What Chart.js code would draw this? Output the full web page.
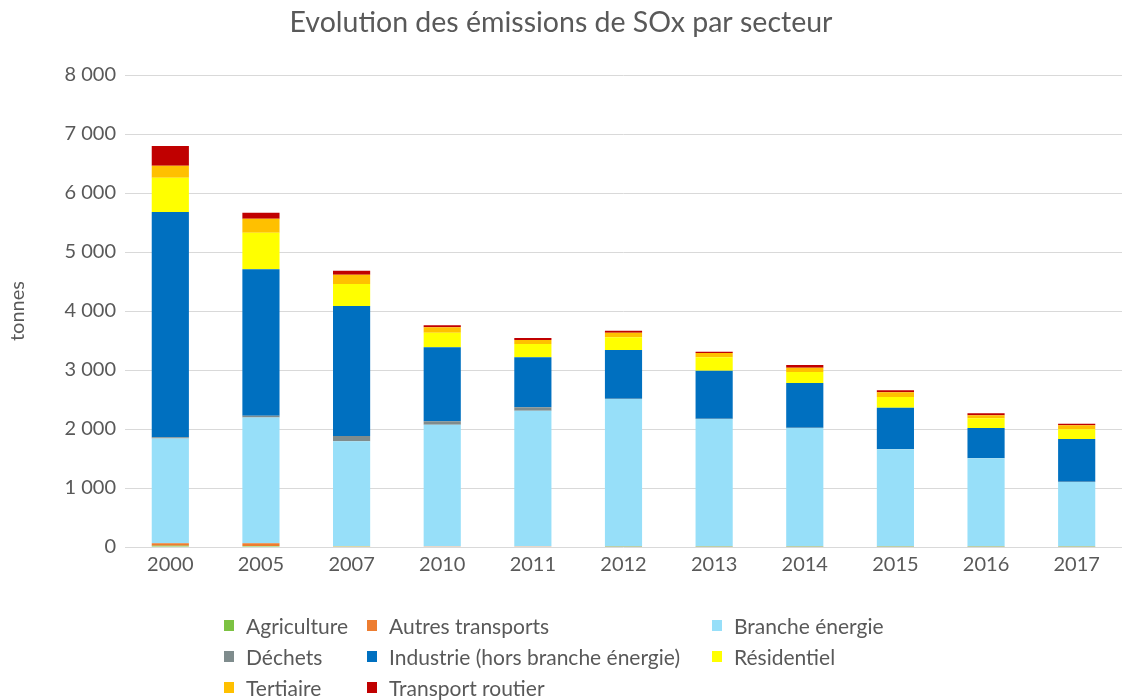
<!DOCTYPE html>
<html><head><meta charset="utf-8">
<script src="https://cdn.jsdelivr.net/npm/chart.js@4.4.1/dist/chart.umd.min.js"></script>
<style>
html,body{margin:0;padding:0;background:#fff;}
#wrap{position:relative;width:1129px;height:700px;}
canvas{position:absolute;left:0;top:0;}
#legend{position:absolute;left:0;top:0;width:1129px;height:700px;pointer-events:none;font-family:Lato,"Open Sans",sans-serif;font-size:21px;color:#595959;}
.li{position:absolute;display:flex;align-items:center;white-space:nowrap;height:26px;}
.sw{width:10px;height:11px;margin-right:12px;flex:none;}
</style></head>
<body><div id="wrap"><canvas id="c" width="1129" height="700"></canvas><div id="legend"></div></div>
<script>
const years = ['2000','2005','2007','2010','2011','2012','2013','2014','2015','2016','2017'];
const agriculture      = [20, 15, 12, 8, 8, 5, 4, 4, 4, 4, 4];
const autresTransports = [45, 48, 5, 4, 4, 4, 3, 3, 3, 3, 3];
const brancheEnergie   = [1774, 2133, 1774, 2061, 2298, 2500, 2163, 2010, 1649, 1496, 1095];
const dechets          = [20, 30, 90, 57, 57, 5, 5, 5, 5, 5, 5];
const industrie        = [3819, 2480, 2204, 1255, 848, 825, 814, 758, 700, 509, 724];
const residentiel      = [582, 621, 373, 247, 226, 215, 226, 186, 181, 164, 164];
const tertiaire        = [203, 238, 157, 92, 67, 78, 73, 74, 79, 51, 67];
const transportRoutier = [334, 101, 68, 33, 34, 34, 23, 45, 34, 34, 28];

const seriesNames = ['Agriculture','Autres transports','Branche énergie','Déchets','Industrie (hors branche énergie)','Résidentiel','Tertiaire','Transport routier'];
const seriesData = [agriculture, autresTransports, brancheEnergie, dechets, industrie, residentiel, tertiaire, transportRoutier];
const seriesColors = ['#7CC242','#ED7D31','#97DFF9','#7F8C8D','#0070C0','#FFFF00','#FFC000','#C00000'];

const FONT = 'Lato, "Open Sans", sans-serif';
const TXT = '#595959';

function fmt(v){ return String(v).replace(/\B(?=(\d{3})+(?!\d))/g, ' '); }

const chart = new Chart(document.getElementById('c'), {
  type: 'bar',
  data: {
    labels: years,
    datasets: seriesNames.map((n,i)=>({
      label: n, data: seriesData[i], backgroundColor: seriesColors[i],
      borderWidth: 0, barPercentage: 0.41, categoryPercentage: 1
    }))
  },
  options: {
    responsive: false, animation: false,
    layout: { padding: { left: 0, right: 7, top: 0, bottom: 113 } },
    plugins: {
      legend: { display: false },
      tooltip: { enabled: false },
      title: { display: true, text: 'Evolution des émissions de SOx par secteur',
        color: TXT, font: { family: FONT, size: 28.5, weight: 'normal' },
        padding: { top: 6, bottom: 34.8 } }
    },
    scales: {
      x: { stacked: true,
        grid: { display: false, drawTicks: false },
        border: { display: false },
        ticks: { color: TXT, font: { family: FONT, size: 20 }, padding: 6, maxRotation: 0 },
        afterFit(s){ s.height = 40; } },
      y: { stacked: true, min: 0, max: 8000,
        grid: { color: '#D9D9D9', lineWidth: 1, drawTicks: false },
        border: { display: false },
        ticks: { stepSize: 1000, color: TXT, font: { family: FONT, size: 20 }, padding: 9,
          callback: v => fmt(v) },
        title: { display: true, text: 'tonnes', color: TXT, font: { family: FONT, size: 20 }, padding: { top: 6, bottom: 0 } },
        afterFit(s){ s.width = 125; } }
    }
  }
});

// HTML legend built from the chart datasets
const legendPos = [
  [224, 625], [367, 625], [712, 625],
  [224, 656], [367, 656], [712, 656],
  [224, 687], [367, 687]
];
const lg = document.getElementById('legend');
chart.data.datasets.forEach((ds, i) => {
  const d = document.createElement('div');
  d.className = 'li';
  d.style.left = legendPos[i][0] + 'px';
  d.style.top = (legendPos[i][1] - 13) + 'px';
  const sw = document.createElement('span');
  sw.className = 'sw'; sw.style.background = ds.backgroundColor;
  const t = document.createElement('span'); t.textContent = ds.label;
  d.appendChild(sw); d.appendChild(t); lg.appendChild(d);
});
</script></body></html>
